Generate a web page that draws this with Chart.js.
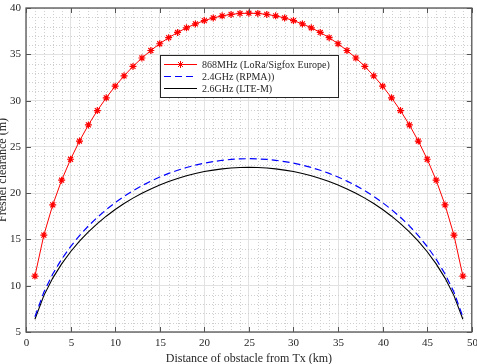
<!DOCTYPE html>
<html><head><meta charset="utf-8">
<script src="https://cdn.jsdelivr.net/npm/chart.js@4/dist/chart.umd.min.js"></script>
<style>html,body{margin:0;padding:0;background:#fff}#c{display:block}</style>
</head><body>
<canvas id="c" width="477" height="364"></canvas>
<script>
const distanceKm = [1,2,3,4,5,6,7,8,9,10,11,12,13,14,15,16,17,18,19,20,21,22,23,24,25,26,27,28,29,30,31,32,33,34,35,36,37,38,39,40,41,42,43,44,45,46,47,48,49];
const clearance868 = [11.04,15.46,18.73,21.40,23.66,25.63,27.37,28.92,30.30,31.55,32.67,33.69,34.60,35.41,36.14,36.79,37.36,37.86,38.28,38.64,38.93,39.15,39.31,39.41,39.44,39.41,39.31,39.15,38.93,38.64,38.28,37.86,37.36,36.79,36.14,35.41,34.60,33.69,32.67,31.55,30.30,28.92,27.37,25.63,23.66,21.40,18.73,15.46,11.04];
const clearance24 = [6.64,9.30,11.26,12.87,14.23,15.41,16.46,17.39,18.22,18.97,19.65,20.26,20.81,21.30,21.74,22.13,22.47,22.77,23.02,23.24,23.41,23.55,23.64,23.70,23.72,23.70,23.64,23.55,23.41,23.24,23.02,22.77,22.47,22.13,21.74,21.30,20.81,20.26,19.65,18.97,18.22,17.39,16.46,15.41,14.23,12.87,11.26,9.30,6.64];
const clearance26 = [6.38,8.93,10.82,12.36,13.67,14.81,15.81,16.71,17.51,18.23,18.88,19.46,19.99,20.46,20.88,21.26,21.59,21.87,22.12,22.33,22.49,22.62,22.71,22.77,22.79,22.77,22.71,22.62,22.49,22.33,22.12,21.87,21.59,21.26,20.88,20.46,19.99,19.46,18.88,18.23,17.51,16.71,15.81,14.81,13.67,12.36,10.82,8.93,6.38];
const seriesLabels = ['868MHz (LoRa/Sigfox Europe)','2.4GHz (RPMA))','2.6GHz (LTE-M)'];
const xTickValues = [0,5,10,15,20,25,30,35,40,45,50];
const yTickValues = [5,10,15,20,25,30,35,40];
const xTitle = 'Distance of obstacle from Tx (km)';
const yTitle = 'Fresnel clearance (m)';

const FONT = '"Liberation Serif", "Times New Roman", serif';
const TXT = '#262626';
const pts = arr => arr.map((v,i)=>({x:distanceKm[i], y:v}));

const decor = {
  id:'decor',
  beforeDatasetsDraw(chart){
    const {ctx, chartArea:a, scales:{x,y}} = chart;
    ctx.save();
    ctx.strokeStyle = '#cfcfcf';
    ctx.lineWidth = 1;
    ctx.setLineDash([1,2]);
    for(let v=0; v<=50; v++){
      if(v%5===0) continue;
      const px = Math.round(x.getPixelForValue(v))+0.5;
      ctx.beginPath(); ctx.moveTo(px,a.top); ctx.lineTo(px,a.bottom); ctx.stroke();
    }
    for(let v=5; v<=40; v++){
      if(v%5===0) continue;
      const py = Math.round(y.getPixelForValue(v))+0.5;
      ctx.beginPath(); ctx.moveTo(a.left,py); ctx.lineTo(a.right,py); ctx.stroke();
    }
    ctx.restore();
  },
  afterDatasetsDraw(chart){
    const {ctx, chartArea:a, scales:{x,y}} = chart;
    ctx.save();
    ctx.strokeStyle = '#555';
    ctx.lineWidth = 1.3;
    ctx.setLineDash([]);
    ctx.strokeRect(a.left, a.top, a.right-a.left, a.bottom-a.top);
    ctx.lineWidth = 1;
    const T = 5;
    ctx.fillStyle = TXT;
    ctx.font = '11px ' + FONT;
    xTickValues.forEach(v=>{
      const px = Math.round(x.getPixelForValue(v))+0.5;
      ctx.beginPath(); ctx.moveTo(px,a.bottom); ctx.lineTo(px,a.bottom-T); ctx.stroke();
      ctx.beginPath(); ctx.moveTo(px,a.top); ctx.lineTo(px,a.top+T); ctx.stroke();
      ctx.textAlign='center'; ctx.textBaseline='top';
      ctx.fillText(String(v), px, a.bottom+6);
    });
    yTickValues.forEach(v=>{
      const py = Math.round(y.getPixelForValue(v))+0.5;
      ctx.beginPath(); ctx.moveTo(a.left,py); ctx.lineTo(a.left+T,py); ctx.stroke();
      ctx.beginPath(); ctx.moveTo(a.right,py); ctx.lineTo(a.right-T,py); ctx.stroke();
      ctx.textAlign='right'; ctx.textBaseline='middle';
      ctx.fillText(String(v), a.left-5, py);
    });
    // titles
    ctx.font = '12px ' + FONT;
    ctx.textAlign = 'center';
    ctx.textBaseline = 'alphabetic';
    ctx.fillText(xTitle, (a.left+a.right)/2, 362);
    ctx.save();
    ctx.translate(5.5, (a.top+a.bottom)/2);
    ctx.rotate(-Math.PI/2);
    ctx.fillText(yTitle, 0, 0);
    ctx.restore();
    // legend
    const bx=160, by=55, bw=178, bh=42;
    ctx.fillStyle='#fff';
    ctx.fillRect(bx,by,bw,bh);
    ctx.strokeStyle=TXT;
    ctx.lineWidth=1;
    ctx.strokeRect(bx+0.5,by+0.5,bw,bh);
    const rows=[64,76,88];
    chart.data.datasets.forEach((ds,i)=>{
      const ry=rows[i]+0.5;
      ctx.strokeStyle=ds.borderColor;
      ctx.lineWidth=1;
      ctx.setLineDash(ds.borderDash||[]);
      ctx.beginPath(); ctx.moveTo(164,ry); ctx.lineTo(197,ry); ctx.stroke();
      ctx.setLineDash([]);
      if(ds.pointRadius>0){
        Chart.helpers.drawPoint(ctx,{pointStyle:'star',radius:ds.pointRadius,rotation:0,borderWidth:1},180.5,ry);
      }
      ctx.fillStyle=TXT;
      ctx.font='10px '+FONT;
      ctx.textAlign='left';
      ctx.textBaseline='middle';
      ctx.fillText(ds.label,202,ry+0.5);
    });
    ctx.restore();
  }
};

new Chart(document.getElementById('c'),{
  type:'line',
  data:{datasets:[
    {label:seriesLabels[0],data:pts(clearance868),borderColor:'#ff0000',backgroundColor:'#ff0000',borderWidth:1,pointStyle:'star',pointRadius:3.5,pointBorderWidth:1.2,pointBorderColor:'#ff0000',tension:0,fill:false},
    {label:seriesLabels[1],data:pts(clearance24),borderColor:'#0000ff',borderWidth:1.2,borderDash:[7,4],pointRadius:0,tension:0,fill:false},
    {label:seriesLabels[2],data:pts(clearance26),borderColor:'#000000',borderWidth:1.1,pointRadius:0,tension:0,fill:false}
  ]},
  options:{
    responsive:false,animation:false,
    layout:{padding:{left:26,right:4,top:8,bottom:32}},
    plugins:{legend:{display:false},tooltip:{enabled:false}},
    scales:{
      x:{type:'linear',min:0,max:50,
        afterBuildTicks(s){s.ticks=xTickValues.map(v=>({value:v}));},
        ticks:{display:false},
        grid:{color:'#e2e2e2',drawTicks:false},border:{display:false},
        afterFit(s){s.height=0;}},
      y:{type:'linear',min:5,max:40,
        afterBuildTicks(s){s.ticks=yTickValues.map(v=>({value:v}));},
        ticks:{display:false},
        grid:{color:'#e2e2e2',drawTicks:false},border:{display:false},
        afterFit(s){s.width=0;}}
    }
  },
  plugins:[decor]
});
</script>
</body></html>
